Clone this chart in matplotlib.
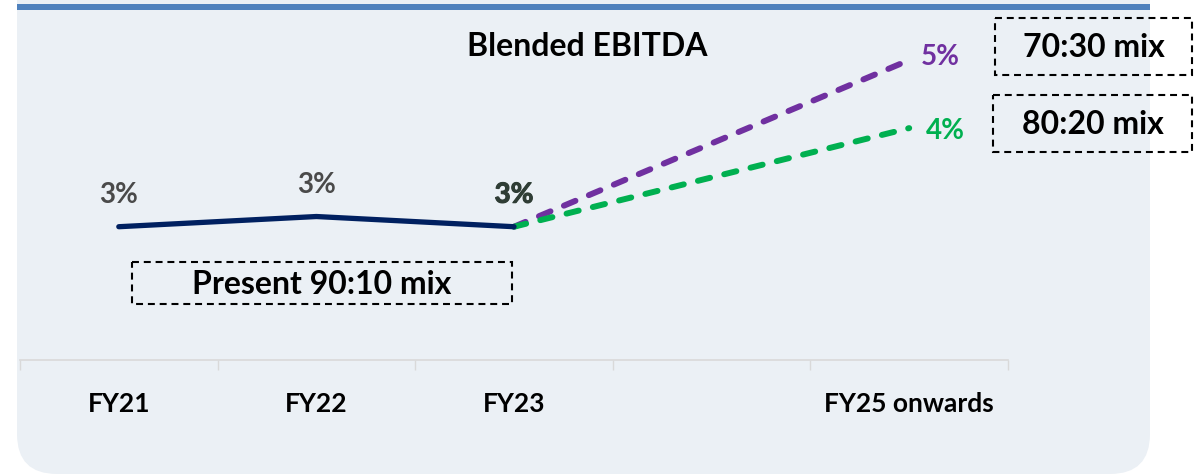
import matplotlib
matplotlib.use("Agg")
import matplotlib.pyplot as plt
import matplotlib.patheffects as pe
from matplotlib.patches import FancyBboxPatch, Rectangle

# Data
categories = ["FY21", "FY22", "FY23", "", "FY25 onwards"]
present_values = [2.55, 2.70, 2.55]          # FY21..FY23, present 90:10 mix
mix_70_30 = [2.55, 5.0]                       # FY23 -> FY25 onwards
mix_80_20 = [2.55, 4.0]                       # FY23 -> FY25 onwards
title = "Blended EBITDA"
box_labels = ["Present 90:10 mix", "70:30 mix", "80:20 mix"]

NAVY = "#002060"
PURPLE = "#7030A0"
GREEN = "#00B050"
PANEL = "#EBF0F5"
BAR = "#4F81BD"

plt.rcParams["font.family"] = ["Lato", "DejaVu Sans"]
plt.rcParams["lines.scale_dashes"] = False

W, H = 1203, 475
fig = plt.figure(figsize=(W / 100, H / 100), dpi=100)
fig.patch.set_facecolor("white")

# Background layer in pixel coordinates
bg = fig.add_axes([0, 0, 1, 1])
bg.set_xlim(0, W)
bg.set_ylim(H, 0)
bg.axis("off")
bg.add_patch(FancyBboxPatch((17, -60), 1150 - 17, 534, boxstyle="round,pad=0,rounding_size=40",
                            facecolor=PANEL, edgecolor="none"))
bg.add_patch(Rectangle((17, 4), 1150 - 17, 6, facecolor=BAR, edgecolor="none"))

def dashed_box(x0, y0, x1, y1, text):
    bg.add_patch(Rectangle((x0, y0), x1 - x0, y1 - y0, facecolor="none", edgecolor="black",
                           linewidth=1.5, linestyle=(0, (5, 3.5))))
    bg.text((x0 + x1) / 2, (y0 + y1) / 2 + 1, text, ha="center", va="center",
            fontsize=23, fontweight="bold", color="black")

dashed_box(132, 262, 512, 304, box_labels[0])
dashed_box(995, 18, 1192, 75, box_labels[1])
dashed_box(993, 95, 1192, 152, box_labels[2])

bg.text(587, 46, title, ha="center", va="center", fontsize=23, fontweight="bold", color="black")

# Chart axes
ax = fig.add_axes([20 / W, (H - 360) / H, 988 / W, 340 / H])
ax.patch.set_alpha(0)
ax.set_xlim(-0.5, len(categories) - 0.5)
ax.set_ylim(0.59, 5.59)
for s in ["top", "right", "left"]:
    ax.spines[s].set_visible(False)
ax.spines["bottom"].set_color("#D9D9D9")
ax.spines["bottom"].set_linewidth(1.2)
ax.set_yticks([])
ax.set_xticks(range(len(categories)))
ax.set_xticklabels(categories, fontsize=19, fontweight="bold", color="black")
ax.tick_params(axis="x", which="major", length=0, pad=23)
ax.set_xticks([i - 0.5 for i in range(len(categories) + 1)], minor=True)
ax.tick_params(axis="x", which="minor", length=7, color="#D9D9D9", width=1)

dash = (0, (9, 10.5))
x_present = [0, 1, 2]
ax.plot(x_present, present_values, color=NAVY, linewidth=3.8, solid_capstyle="round", zorder=3)
ax.plot([2, 4], mix_70_30, color=PURPLE, linewidth=4.3, linestyle=dash,
        dash_capstyle="round", zorder=2)
ax.plot([2, 4], mix_80_20, color=GREEN, linewidth=4.3, linestyle=dash,
        dash_capstyle="round", zorder=2)

label_colors = ["#4A4A4A", "#4A4A4A", "#2F3D35"]
for i, (x, v) in enumerate(zip(x_present, present_values)):
    t = ax.annotate(f"{v:.0f}%", (x, v), xytext=(0, 32), textcoords="offset pixels",
                    ha="center", va="center", fontsize=20, fontweight="bold",
                    color=label_colors[i])
    if i == 2:
        t.set_path_effects([pe.withStroke(linewidth=0.8, foreground=label_colors[i])])

ax.annotate(f"{mix_70_30[-1]:.0f}%", (4, mix_70_30[-1]), xytext=(12, 3), textcoords="offset pixels",
            ha="left", va="center", fontsize=20, fontweight="bold", color=PURPLE)
ax.annotate(f"{mix_80_20[-1]:.0f}%", (4, mix_80_20[-1]), xytext=(17, -3), textcoords="offset pixels",
            ha="left", va="center", fontsize=20, fontweight="bold", color=GREEN)

fig.savefig("out.png", dpi=100, facecolor="white")
